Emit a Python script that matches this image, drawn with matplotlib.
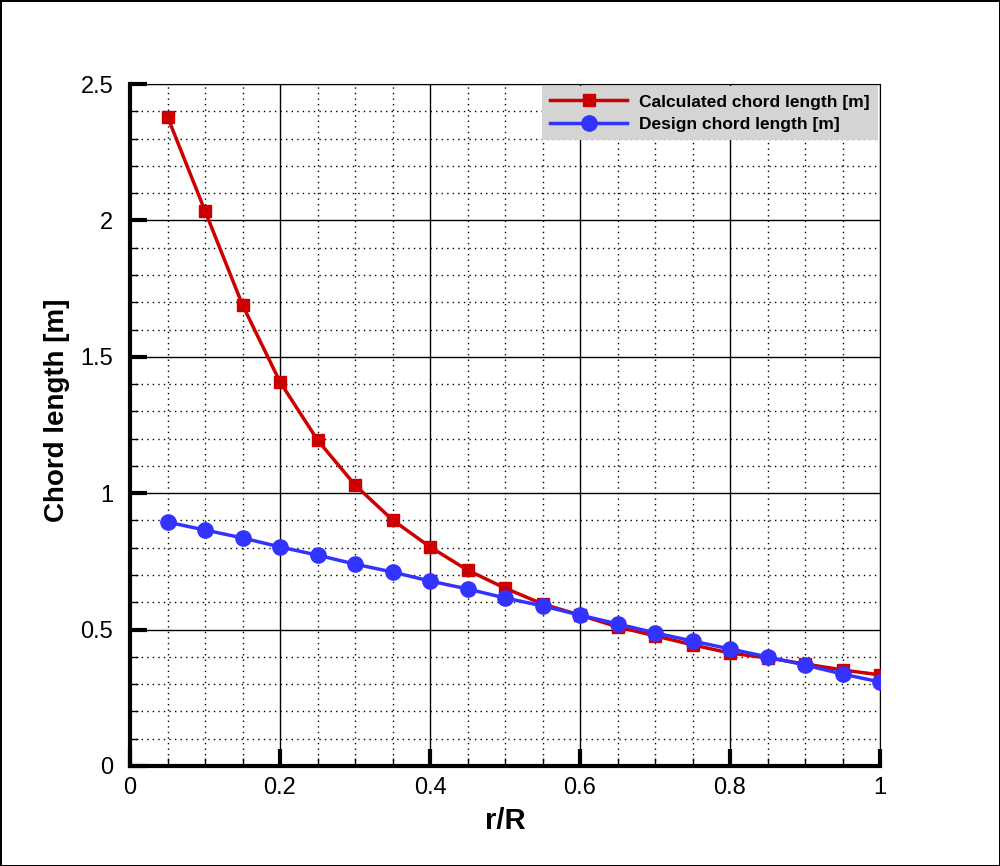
import numpy as np
import matplotlib
matplotlib.use("Agg")
import matplotlib.pyplot as plt
from matplotlib.ticker import MultipleLocator

plt.rcParams['font.family'] = ['Liberation Sans', 'DejaVu Sans']

# radial stations r/R
r_R = [0.05, 0.10, 0.15, 0.20, 0.25, 0.30, 0.35, 0.40, 0.45, 0.50,
       0.55, 0.60, 0.65, 0.70, 0.75, 0.80, 0.85, 0.90, 0.95, 1.00]

# chord lengths [m]
calc_chord = [2.38, 2.035, 1.69, 1.408, 1.195, 1.03, 0.902, 0.803, 0.718, 0.652,
              0.594, 0.553, 0.51, 0.477, 0.444, 0.414, 0.396, 0.374, 0.352, 0.334]
design_chord = [0.894, 0.865, 0.836, 0.803, 0.773, 0.74, 0.711, 0.678, 0.649, 0.616,
                0.587, 0.553, 0.521, 0.488, 0.458, 0.429, 0.40, 0.37, 0.337, 0.308]

labels = ["Calculated chord length [m]", "Design chord length [m]"]

fig = plt.figure(figsize=(10, 8.66), dpi=100)
fig.patch.set_edgecolor('black')
fig.patch.set_linewidth(2)
ax = fig.add_axes([0.13, 0.1155, 0.75, 0.7875])

ax.plot(r_R, calc_chord, color='#cc0000', lw=2.5, marker='s', ms=8.5,
        label=labels[0], zorder=3)
ax.plot(r_R, design_chord, color='#3333ff', lw=2.5, marker='o', ms=11,
        label=labels[1], zorder=4)

ax.set_xlim(0, 1)
ax.set_ylim(0, 2.5)
ax.xaxis.set_major_locator(MultipleLocator(0.2))
ax.xaxis.set_minor_locator(MultipleLocator(0.05))
ax.yaxis.set_major_locator(MultipleLocator(0.5))
ax.yaxis.set_minor_locator(MultipleLocator(0.1))
ax.xaxis.set_major_formatter(plt.FuncFormatter(lambda v, p: f"{v:g}"))
ax.yaxis.set_major_formatter(plt.FuncFormatter(lambda v, p: f"{v:g}"))

ax.grid(which='major', color='black', lw=1.0, ls='-')
ax.grid(which='minor', color='black', lw=1.0, ls=(0, (1, 3)))
ax.set_axisbelow(True)

for s in ['left', 'bottom']:
    ax.spines[s].set_linewidth(3)
for s in ['top', 'right']:
    ax.spines[s].set_linewidth(0.8)

ax.tick_params(which='major', direction='in', length=12, width=3,
               labelsize=17, top=False, right=False)
ax.tick_params(axis='x', which='major', pad=8)
ax.tick_params(axis='y', which='major', pad=12)
ax.tick_params(which='minor', direction='in', length=6, width=1,
               top=False, right=False)

ax.set_xlabel("r/R", fontsize=21, fontweight='bold', labelpad=6)
ax.set_ylabel("Chord length [m]", fontsize=20, fontweight='bold',
              va='center')
ax.yaxis.set_label_coords(-0.097, 0.522)

leg = ax.legend(loc='upper right', fontsize=12.5, handlelength=4.4,
                frameon=True, fancybox=False, borderaxespad=0.1,
                borderpad=0.5, labelspacing=0.4, handletextpad=0.7)
leg.get_frame().set_facecolor('#d4d4d4')
leg.get_frame().set_edgecolor('none')
leg.get_frame().set_alpha(1)
for t in leg.get_texts():
    t.set_fontweight('bold')

fig.savefig("out.png", dpi=100)
